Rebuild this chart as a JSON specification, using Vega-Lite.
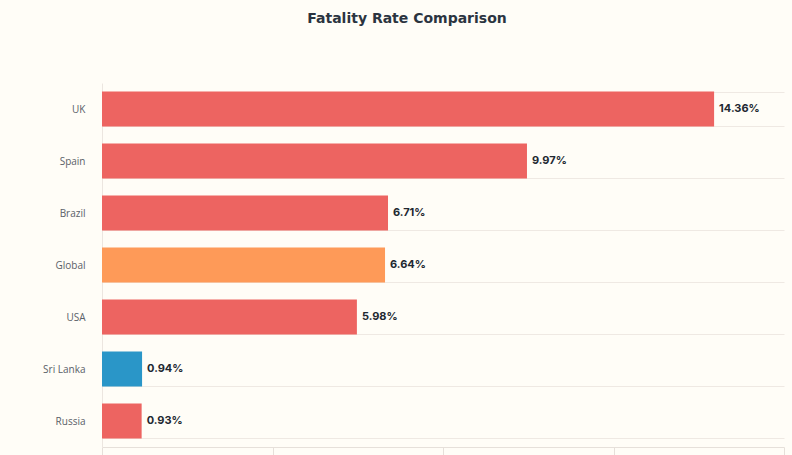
{
  "$schema": "https://vega.github.io/schema/vega-lite/v6.json",
  "autosize": {"type": "none"},
  "width": 682,
  "height": 364,
  "padding": {"left": 102, "top": 83, "right": 8, "bottom": 8},
  "background": "#fffdf7",
  "title": {
    "text": "Fatality Rate Comparison",
    "font": "DejaVu Sans",
    "fontSize": 14,
    "fontWeight": 700,
    "color": "#2b3440",
    "anchor": "middle",
    "dx": -36,
    "offset": 52
  },
  "config": {
    "view": {"stroke": null},
    "font": "Inter"
  },
  "data": {
    "values": [
      {"country": "UK", "rate": 0.1436, "group": "Country"},
      {"country": "Spain", "rate": 0.0997, "group": "Country"},
      {"country": "Brazil", "rate": 0.0671, "group": "Country"},
      {"country": "Global", "rate": 0.0664, "group": "Global"},
      {"country": "USA", "rate": 0.0598, "group": "Country"},
      {"country": "Sri Lanka", "rate": 0.0094, "group": "Sri Lanka"},
      {"country": "Russia", "rate": 0.0093, "group": "Country"}
    ]
  },
  "encoding": {
    "y": {
      "field": "country",
      "type": "nominal",
      "sort": null,
      "scale": {"paddingInner": 0.33, "paddingOuter": 0.165},
      "axis": {
        "title": null,
        "ticks": false,
        "tickBand": "extent",
        "grid": true,
        "gridColor": "#efe9e3",
        "gridWidth": 1,
        "domainColor": "#ece6e0",
        "labelPadding": 17,
        "labelFont": "Open Sans",
        "labelFontSize": 10,
        "labelColor": "#5a6068"
      }
    },
    "x": {
      "field": "rate",
      "type": "quantitative",
      "scale": {"domain": [0, 0.16], "nice": false},
      "axis": {
        "title": null,
        "values": [0, 0.04, 0.08, 0.12, 0.16],
        "labels": false,
        "grid": false,
        "ticks": true,
        "tickSize": 10,
        "tickColor": "#e6e0da",
        "domainColor": "#e6e0da"
      }
    }
  },
  "layer": [
    {
      "mark": {"type": "bar"},
      "encoding": {
        "color": {
          "field": "group",
          "type": "nominal",
          "scale": {"domain": ["Country", "Global", "Sri Lanka"], "range": ["#ed6461", "#fe9a58", "#2a96c8"]},
          "legend": null
        }
      }
    },
    {
      "mark": {"type": "text", "align": "left", "baseline": "middle", "dx": 5, "font": "Inter", "fontSize": 11, "fontWeight": 700, "color": "#222831"},
      "encoding": {
        "text": {"field": "rate", "type": "quantitative", "format": ".2%"}
      }
    }
  ]
}
